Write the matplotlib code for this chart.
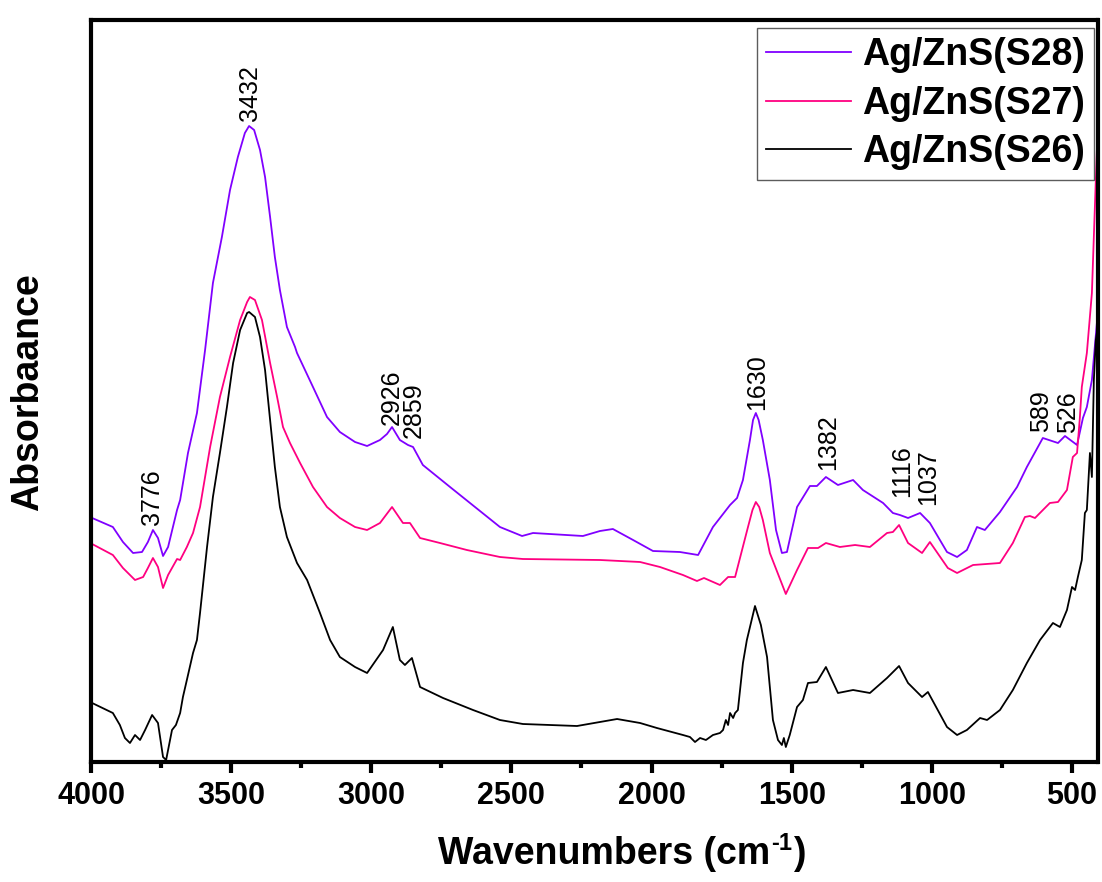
import matplotlib
matplotlib.use("Agg")
import matplotlib.pyplot as plt
from matplotlib.ticker import MultipleLocator, NullLocator

plt.rcParams['font.family'] = ['Liberation Sans', 'DejaVu Sans']

# FTIR spectra (wavenumber in cm^-1, absorbance in arbitrary units, offset stacked)
wn_s28 = [3996, 3922, 3886, 3850, 3818, 3797, 3779, 3761, 3743, 3725, 3693, 3682,
          3654, 3622, 3593, 3565, 3533, 3504, 3476, 3451, 3436, 3418, 3397, 3379,
          3361, 3344, 3326, 3301, 3272, 3265, 3208, 3158, 3112, 3058, 3015, 2969,
          2944, 2926, 2898, 2869, 2851, 2816, 2719, 2541, 2462, 2423, 2245, 2184,
          2138, 2066, 1995, 1899, 1834, 1781, 1720, 1695, 1674, 1649, 1638, 1628,
          1618, 1603, 1578, 1556, 1535, 1517, 1481, 1435, 1410, 1378, 1335, 1281,
          1246, 1174, 1139, 1114, 1085, 1042, 1007, 946, 910, 875, 839, 811, 757,
          696, 661, 604, 550, 525, 482, 461, 447, 429, 404]
ab_s28 = [2.44, 2.35, 2.20, 2.09, 2.10, 2.20, 2.32, 2.24, 2.06, 2.15, 2.52, 2.62,
          3.09, 3.49, 4.12, 4.79, 5.25, 5.72, 6.05, 6.29, 6.36, 6.32, 6.12, 5.85,
          5.45, 5.05, 4.72, 4.35, 4.15, 4.09, 3.75, 3.45, 3.30, 3.20, 3.16, 3.22,
          3.28, 3.35, 3.22, 3.17, 3.15, 2.97, 2.75, 2.35, 2.26, 2.29, 2.26, 2.31,
          2.33, 2.22, 2.11, 2.10, 2.07, 2.35, 2.57, 2.64, 2.82, 3.22, 3.42, 3.49,
          3.42, 3.22, 2.82, 2.32, 2.09, 2.10, 2.55, 2.76, 2.76, 2.85, 2.77, 2.82,
          2.72, 2.59, 2.49, 2.47, 2.44, 2.49, 2.39, 2.10, 2.05, 2.12, 2.35, 2.32, 2.50,
          2.75, 2.95, 3.24, 3.19, 3.26, 3.17, 3.44, 3.55, 3.82, 4.62]

wn_s27 = [3996, 3922, 3886, 3843, 3814, 3797, 3779, 3761, 3743, 3725, 3693, 3682,
          3658, 3636, 3611, 3575, 3540, 3504, 3468, 3443, 3433, 3415, 3390, 3361,
          3336, 3315, 3290, 3254, 3208, 3158, 3112, 3058, 3015, 2969, 2926, 2887,
          2862, 2826, 2755, 2659, 2541, 2459, 2184, 2041, 1970, 1888, 1838, 1813,
          1756, 1727, 1702, 1656, 1640, 1628, 1616, 1603, 1578, 1521, 1481, 1442,
          1406, 1378, 1328, 1274, 1221, 1160, 1139, 1117, 1085, 1035, 1007, 943,
          910, 853, 757, 711, 668, 650, 632, 579, 550, 518, 497, 482, 472, 465,
          447, 429, 415, 404]
ab_s27 = [2.18, 2.07, 1.94, 1.82, 1.85, 1.94, 2.04, 1.95, 1.74, 1.87, 2.03, 2.02,
          2.15, 2.29, 2.55, 3.15, 3.65, 4.05, 4.42, 4.60, 4.65, 4.62, 4.42, 3.99,
          3.65, 3.35, 3.19, 2.99, 2.75, 2.55, 2.44, 2.35, 2.32, 2.39, 2.55, 2.39,
          2.39, 2.24, 2.19, 2.12, 2.05, 2.03, 2.02, 2.00, 1.95, 1.87, 1.81, 1.84,
          1.77, 1.85, 1.85, 2.35, 2.52, 2.60, 2.55, 2.42, 2.09, 1.68, 1.92, 2.14,
          2.14, 2.19, 2.15, 2.17, 2.15, 2.29, 2.30, 2.37, 2.19, 2.09, 2.20, 1.94,
          1.89, 1.97, 1.99, 2.19, 2.45, 2.46, 2.44, 2.59, 2.60, 2.72, 3.05, 3.09,
          3.44, 3.75, 4.09, 4.69, 5.82, 6.67]

wn_s26 = [3996, 3922, 3897, 3879, 3861, 3843, 3825, 3807, 3782, 3761, 3743, 3732,
          3711, 3697, 3682, 3672, 3658, 3636, 3622, 3611, 3586, 3565, 3540, 3515,
          3493, 3468, 3443, 3436, 3415, 3397, 3379, 3361, 3344, 3326, 3301, 3265,
          3229, 3183, 3147, 3112, 3058, 3015, 2958, 2923, 2898, 2880, 2855, 2826,
          2744, 2637, 2541, 2459, 2266, 2123, 2041, 1981, 1888, 1863, 1845, 1827,
          1806, 1781, 1756, 1745, 1735, 1727, 1720, 1709, 1702, 1692, 1674, 1660,
          1631, 1610, 1588, 1567, 1549, 1535, 1528, 1521, 1507, 1481, 1460, 1442,
          1410, 1378, 1335, 1281, 1221, 1160, 1117, 1085, 1035, 1014, 946, 910,
          875, 828, 803, 757, 711, 661, 614, 568, 543, 518, 500, 489, 479, 465,
          454, 447, 436, 429, 422, 415, 404]
ab_s26 = [0.59, 0.49, 0.37, 0.24, 0.19, 0.27, 0.22, 0.32, 0.47, 0.39, 0.05, 0.02,
          0.32, 0.37, 0.49, 0.65, 0.82, 1.09, 1.22, 1.49, 2.15, 2.65, 3.09, 3.55,
          3.99, 4.32, 4.49, 4.50, 4.45, 4.25, 3.92, 3.42, 2.95, 2.55, 2.25, 1.99,
          1.82, 1.49, 1.22, 1.05, 0.95, 0.89, 1.12, 1.35, 1.02, 0.97, 1.04, 0.75,
          0.64, 0.52, 0.42, 0.38, 0.36, 0.43, 0.39, 0.34, 0.27, 0.25, 0.20, 0.24,
          0.22, 0.27, 0.29, 0.32, 0.42, 0.37, 0.49, 0.44, 0.49, 0.52, 0.99, 1.22,
          1.56, 1.37, 1.05, 0.42, 0.22, 0.17, 0.24, 0.15, 0.27, 0.55, 0.62, 0.79,
          0.80, 0.95, 0.69, 0.72, 0.69, 0.84, 0.96, 0.79, 0.65, 0.70, 0.35, 0.27,
          0.32, 0.44, 0.42, 0.52, 0.72, 0.99, 1.22, 1.39, 1.35, 1.52, 1.75, 1.72,
          1.85, 2.02, 2.49, 2.52, 3.09, 2.85, 3.82, 4.22, 4.42]

# Peak annotations: text, wavenumber position, absorbance of text base
peak_text = ['3776', '3432', '2926', '2859', '1630', '1382', '1116', '1037', '589', '526']
peak_wn = [3782, 3433, 2926, 2848, 1624, 1371, 1107, 1014, 611, 515]
peak_ab = [2.37, 6.41, 3.37, 3.24, 3.52, 2.92, 2.65, 2.57, 3.30, 3.29]

series_labels = ['Ag/ZnS(S28)', 'Ag/ZnS(S27)', 'Ag/ZnS(S26)']
series_colors = ['#8000FF', '#FF0080', '#000000']

W, H = 1102, 882
fig = plt.figure(figsize=(W / 100, H / 100), dpi=100)
ax = fig.add_axes([91 / W, 120 / H, (1097.5 - 91) / W, (862 - 120) / H])

handles = []
for wn, ab, lab, col in zip([wn_s28, wn_s27, wn_s26], [ab_s28, ab_s27, ab_s26],
                            series_labels, series_colors):
    h, = ax.plot(wn, ab, color=col, lw=1.3, label=lab, solid_joinstyle='round')
    handles.append(h)

for t, x, y in zip(peak_text, peak_wn, peak_ab):
    ax.text(x, y, t, rotation=90, ha='center', va='bottom', fontsize=18)

ax.set_xlim(4000, 409)
ax.set_ylim(0, 7.42)

ax.xaxis.set_major_locator(MultipleLocator(500))
ax.xaxis.set_minor_locator(MultipleLocator(250))
ax.yaxis.set_major_locator(NullLocator())
ax.yaxis.set_minor_locator(NullLocator())
ax.tick_params(axis='x', which='major', direction='out', length=8, width=3,
               labelsize=22, pad=6, top=False)
ax.tick_params(axis='x', which='minor', direction='out', length=4.5, width=3, top=False)
for lbl in ax.get_xticklabels():
    lbl.set_fontweight('bold')

for sp in ax.spines.values():
    sp.set_linewidth(3)

ax.set_ylabel('Absorbaance', fontsize=27, fontweight='bold')
ax.yaxis.set_label_coords(-(91 - 28) / (1097.5 - 91), (762 - 392) / 742, transform=ax.transAxes)
ax.yaxis.label.set_va('center')

# x-axis title assembled from pieces so the superscript keeps a plain hyphen
renderer = fig.canvas.get_renderer()
base_y = 1 - 864 / H
t_main = fig.text(438 / W, base_y, 'Wavenumbers (cm', fontsize=27, fontweight='bold',
                  ha='left', va='baseline')
bb = t_main.get_window_extent(renderer)
t_sup = fig.text((bb.x1 + 1) / W, base_y + 14 / H, '-1', fontsize=17, fontweight='bold',
                 ha='left', va='baseline')
bb2 = t_sup.get_window_extent(renderer)
fig.text((bb2.x1 + 1) / W, base_y, ')', fontsize=27, fontweight='bold',
         ha='left', va='baseline')

leg = ax.legend(handles=handles, loc='upper right',
                bbox_to_anchor=(1094 / W, 1 - 28 / H), bbox_transform=fig.transFigure,
                borderaxespad=0, prop={'weight': 'bold', 'size': 27},
                handlelength=2.25, handletextpad=0.3, labelspacing=0.33,
                borderpad=0.25, fancybox=False, frameon=True)
leg.get_frame().set_edgecolor('#333333')
leg.get_frame().set_linewidth(1.0)

fig.savefig('out.png', dpi=100)
